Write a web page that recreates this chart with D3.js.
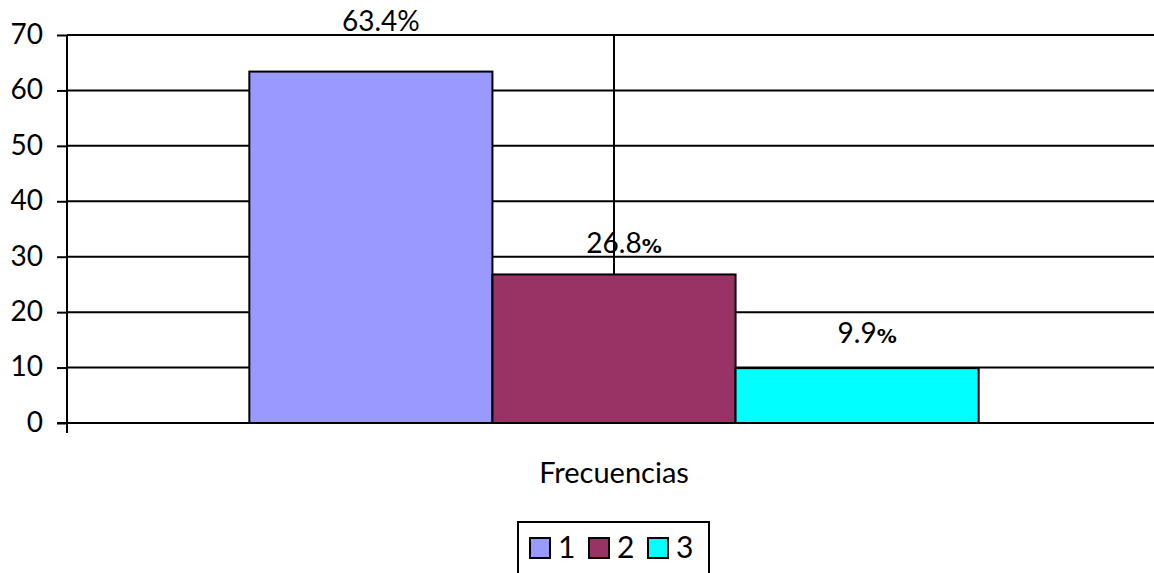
<!DOCTYPE html>
<html><head><meta charset="utf-8">
<script src="https://cdn.jsdelivr.net/npm/d3@7"></script>
<style>
html,body{margin:0;padding:0;background:#fff;overflow:hidden;}
text{font-family:Lato,"Open Sans",sans-serif;fill:#000;}
</style></head>
<body>
<svg id="chart" width="1154" height="573"></svg>
<script>
const categories = ["Frecuencias"];
const seriesNames = ["1", "2", "3"];
const seriesValues = [63.4, 26.8, 9.9];
const valueLabels = ["63.4", "26.8", "9.9"];
const seriesColors = ["#9999FF", "#993366", "#00FFFF"];
const yTicks = [0, 10, 20, 30, 40, 50, 60, 70];

(function () {
// label offsets above bar tops (style constants)
const labelDy = [-41, -21, -25];
const labelDx = 10;
const pctSmall = [false, true, true];

const svg = d3.select("#chart");
const pLeft = 67, pRight = 1161, pTop = 35, pBottom = 423;

const y = d3.scaleLinear().domain([0, 70]).range([pBottom, pTop]);
const x0 = d3.scaleBand().domain(categories).range([pLeft, pRight]).padding(0.2);
const x1 = d3.scaleBand().domain(seriesNames).range([0, x0.bandwidth()]);

// horizontal gridlines
svg.append("g").selectAll("line").data(yTicks.filter(d => d > 0)).join("line")
  .attr("x1", pLeft).attr("x2", 1154)
  .attr("y1", d => y(d)).attr("y2", d => y(d))
  .attr("stroke", "#000").attr("stroke-width", 2);

// vertical gridline at category center
const cx = x0("Frecuencias") + x0.bandwidth() / 2;
svg.append("line")
  .attr("x1", cx).attr("x2", cx)
  .attr("y1", pTop).attr("y2", pBottom)
  .attr("stroke", "#000").attr("stroke-width", 2);

// bars
const g = svg.append("g").attr("transform", `translate(${x0("Frecuencias")},0)`);
g.selectAll("rect").data(seriesValues).join("rect")
  .attr("x", (d, i) => x1(seriesNames[i]))
  .attr("y", d => y(d))
  .attr("width", x1.bandwidth())
  .attr("height", d => pBottom - y(d))
  .attr("fill", (d, i) => seriesColors[i])
  .attr("stroke", "#000").attr("stroke-width", 2);

// value labels
const lbl = g.selectAll("text.vl").data(seriesValues).join("text")
  .attr("class", "vl")
  .attr("x", (d, i) => x1(seriesNames[i]) + x1.bandwidth() / 2 + labelDx)
  .attr("y", (d, i) => y(d) + labelDy[i])
  .attr("text-anchor", "middle")
  .attr("font-size", 28);
lbl.append("tspan").text((d, i) => valueLabels[i]);
lbl.append("tspan").text("%")
  .style("font-family", (d, i) => pctSmall[i] ? "'DejaVu Sans'" : null)
  .attr("font-size", (d, i) => pctSmall[i] ? 20 : 28)
  .attr("font-weight", (d, i) => pctSmall[i] ? "bold" : null);

// y axis
const yAxis = d3.axisLeft(y).tickValues(yTicks).tickSize(10).tickPadding(14).tickFormat(d3.format("d"));
const ya = svg.append("g").attr("transform", `translate(${pLeft},0)`).call(yAxis);
ya.select(".domain").attr("d", `M0,${pTop}V${pBottom + 10}`).attr("stroke-width", 2);
ya.selectAll(".tick line").attr("stroke-width", 2);
ya.selectAll(".tick text").attr("font-size", 28).attr("dy", "0.3em")
  .style("font-family", "Lato,'Open Sans',sans-serif").attr("fill", "#000");

// x baseline
svg.append("line").attr("x1", pLeft - 10).attr("x2", 1154).attr("y1", pBottom).attr("y2", pBottom)
  .attr("stroke", "#000").attr("stroke-width", 2);

// x category label
svg.append("text").attr("x", cx).attr("y", 483)
  .attr("text-anchor", "middle").attr("font-size", 29).text(categories[0]);

// legend
const lg = svg.append("g");
lg.append("rect").attr("x", 518).attr("y", 522).attr("width", 191).attr("height", 70)
  .attr("fill", "#fff").attr("stroke", "#000").attr("stroke-width", 2);
const item = lg.selectAll("g.it").data(seriesNames).join("g").attr("class", "it")
  .attr("transform", (d, i) => `translate(${530 + i * 59},538)`);
item.append("rect").attr("width", 20).attr("height", 20)
  .attr("fill", (d, i) => seriesColors[i]).attr("stroke", "#000").attr("stroke-width", 2);
item.append("text").attr("x", 28).attr("y", 20).attr("font-size", 30).text(d => d);
})();
</script>
</body></html>
